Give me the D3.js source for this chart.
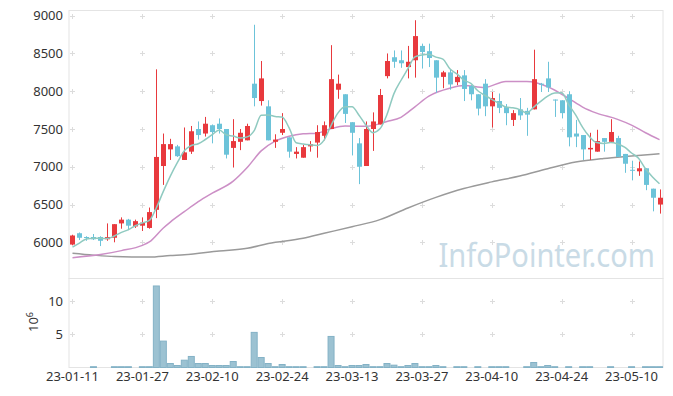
<!DOCTYPE html>
<html>
<head>
<meta charset="utf-8">
<script src="https://cdn.jsdelivr.net/npm/d3@7"></script>
<style>
  body { margin: 0; background: #fff; }
  text { font-family: "Noto Sans", sans-serif; }
</style>
</head>
<body>
<div id="chart"></div>
<script>
// trading days
const dates = [
  "23-01-11","23-01-12","23-01-13","23-01-16","23-01-17","23-01-18","23-01-19","23-01-20","23-01-25","23-01-26",
  "23-01-27","23-01-30","23-01-31","23-02-01","23-02-02","23-02-03","23-02-06","23-02-07","23-02-08","23-02-09",
  "23-02-10","23-02-13","23-02-14","23-02-15","23-02-16","23-02-17","23-02-20","23-02-21","23-02-22","23-02-23",
  "23-02-24","23-02-27","23-02-28","23-03-02","23-03-03","23-03-06","23-03-07","23-03-08","23-03-09","23-03-10",
  "23-03-13","23-03-14","23-03-15","23-03-16","23-03-17","23-03-20","23-03-21","23-03-22","23-03-23","23-03-24",
  "23-03-27","23-03-28","23-03-29","23-03-30","23-03-31","23-04-03","23-04-04","23-04-05","23-04-06","23-04-07",
  "23-04-10","23-04-11","23-04-12","23-04-13","23-04-14","23-04-17","23-04-18","23-04-19","23-04-20","23-04-21",
  "23-04-24","23-04-25","23-04-26","23-04-27","23-04-28","23-05-02","23-05-03","23-05-04","23-05-08","23-05-09",
  "23-05-10","23-05-11","23-05-12","23-05-15","23-05-16"
];

const open = [
  5970,6120,6070,6070,6070,6040,6060,6250,6300,6210,
  6220,6190,6430,7010,7230,7270,7090,7200,7500,7440,
  7550,7570,7500,7250,7330,7350,8100,7870,7800,7330,
  7450,7390,7170,7120,7270,7320,7410,7500,8020,7960,
  7590,7310,7010,7500,7560,8200,8450,8410,8320,8410,
  8600,8530,8410,8190,8250,8120,8210,8070,7960,8100,
  7800,7870,7790,7620,7760,7740,7760,8100,8170,7890,
  7880,7960,7440,7420,7230,7200,7380,7330,7380,7170,
  6960,6940,6980,6710,6500
];
const high = [
  6100,6130,6080,6110,6080,6250,6240,6330,6310,6300,
  6330,6460,8290,7440,7370,7290,7520,7540,7600,7660,
  7560,7640,7500,7630,7500,7570,8880,8400,7880,7430,
  7710,7390,7260,7290,7340,7550,7600,8610,8220,7960,
  7590,7380,7600,7720,8030,8500,8540,8540,8600,8940,
  8630,8630,8410,8270,8290,8280,8280,8080,7960,8160,
  7990,7970,7830,7750,7910,7780,8550,8110,8390,7890,
  7880,8000,7620,7420,7450,7490,7380,7630,7410,7170,
  7080,7070,6980,6710,6700
];
const low = [
  5960,6030,6020,6030,5950,6020,6000,6180,6160,6190,
  6150,6180,6320,6760,7090,7130,7090,7170,7360,7400,
  7310,7440,7110,6990,7220,7350,7800,7810,7350,7250,
  7420,7120,7110,7120,7200,7120,7350,7500,7900,7580,
  7150,6770,7010,7210,7560,8170,8310,8310,8170,8180,
  8300,8320,7980,8040,8020,8080,7870,7880,7680,7670,
  7520,7710,7550,7540,7620,7410,7760,7990,7990,7660,
  7640,7270,7260,7090,7090,7200,7200,7330,7130,6920,
  6820,6880,6690,6410,6380
];
const close = [
  6090,6060,6060,6040,6020,6070,6240,6300,6220,6280,
  6260,6400,7130,7300,7300,7140,7190,7470,7420,7570,
  7460,7500,7160,7340,7450,7540,7910,8170,7350,7360,
  7500,7200,7200,7260,7300,7460,7550,8160,8100,7700,
  7450,7000,7500,7600,7950,8400,8390,8370,8390,8730,
  8520,8440,8180,8250,8090,8190,8030,7960,7770,7800,
  7910,7780,7710,7710,7680,7690,8160,8090,8050,7880,
  7710,7390,7400,7230,7250,7340,7330,7460,7130,7040,
  6950,6980,6760,6590,6590
];
// volume, millions of shares
const volume = [
  0,0,0,0.12,0,0,0.12,0.12,0.12,0,
  0.12,0.12,12.26,3.97,0.6,0.3,1.1,1.66,0.6,0.6,
  0.3,0.3,0.3,0.9,0.12,0.12,5.28,1.5,0.6,0.12,
  0.45,0.12,0.12,0.12,0,0.12,0.12,4.67,0.3,0.12,
  0.3,0.3,0.45,0.12,0.12,0.6,0.35,0.12,0.3,0.6,
  0.12,0.12,0.3,0.12,0,0.12,0.12,0,0.12,0,
  0.12,0.12,0.12,0,0,0.12,0.75,0.12,0.3,0.12,
  0,0.12,0,0.12,0.12,0,0,0.12,0,0,
  0.12,0,0.12,0.12,0.12
];

// moving averages
const ma5 = [
  5935,5990,6045,6055,6053,6049,6084,6131,6167,6219,
  6257,6290,6457,6674,6877,7054,7212,7281,7305,7361,
  7425,7487,7423,7406,7381,7396,7479,7683,7684,7666,
  7658,7515,7319,7302,7290,7282,7353,7546,7713,7794,
  7793,7683,7550,7452,7502,7691,7968,8142,8299,8455,
  8480,8491,8452,8425,8297,8229,8147,8103,8006,7947,
  7892,7843,7792,7780,7757,7714,7790,7866,7935,7975,
  7979,7824,7686,7522,7396,7320,7309,7321,7302,7259,
  7182,7113,6973,6865,6775
];
const ma20Idx = [0,4,7,10,11,13,14,16,18,20,23,25,27,29,31,33,35,37,39,42,45,47,49,51,54,56,59,62,65,68,71,73,75,78,80,82,84];
const ma20 = [5797,5840,5890,5960,6005,6190,6268,6405,6537,6650,6810,6990,7210,7340,7405,7437,7445,7505,7539,7535,7600,7655,7794,7935,8040,8075,8050,8130,8128,8060,7905,7790,7710,7628,7552,7450,7358];
const ma60Idx = [0,3,6,11,14,16,21,25,28,33,36,40,44,48,52,56,60,64,68,72,76,80,84];
const ma60 = [5855,5830,5812,5805,5825,5835,5885,5920,5985,6053,6119,6206,6300,6455,6595,6712,6800,6877,6975,7062,7110,7142,7172];

const priceTicks = [6000,6500,7000,7500,8000,8500,9000];
const volTicks = [5,10];
const dateTicks = ["23-01-11","23-01-27","23-02-10","23-02-24","23-03-13","23-03-27","23-04-10","23-04-24","23-05-10"];

const W = 673, H = 396;
const left = 69, right = 663;
const pTop = 10.5, pBot = 278.5, vBot = 367.5;

const svg = d3.select("#chart").append("svg")
    .attr("width", W)
    .attr("height", H);

const x = d3.scaleBand()
    .domain(dates)
    .range([left, right])
    .padding(0);
const cx = d => x(d) + x.bandwidth() / 2;

const y = d3.scaleLinear()
    .domain([6000, 9000])
    .range([242.3, 15.7]);

const vy = d3.scaleLinear()
    .domain([0, 10])
    .range([vBot, 301]);

// frames
svg.append("rect")
    .attr("x", left).attr("y", pTop)
    .attr("width", right - left).attr("height", pBot - pTop)
    .attr("fill", "none").attr("stroke", "#e4e4e4");
svg.append("rect")
    .attr("x", left).attr("y", pBot)
    .attr("width", right - left).attr("height", vBot - pBot)
    .attr("fill", "none").attr("stroke", "#e4e4e4");

// grid crosses
const grid = svg.append("g").attr("stroke", "#dcdcdc").attr("stroke-width", 1);
const crossRows = priceTicks.map(t => y(t)).concat(volTicks.map(t => vy(t)));
dateTicks.forEach(d => {
    crossRows.forEach(ry => {
        const gx = Math.round(cx(d)) + 0.5, gy = Math.round(ry) + 0.5;
        grid.append("line").attr("x1", gx - 2.5).attr("x2", gx + 2.5).attr("y1", gy).attr("y2", gy);
        grid.append("line").attr("x1", gx).attr("x2", gx).attr("y1", gy - 2.5).attr("y2", gy + 2.5);
    });
});

// watermark (right edge pinned, narrowed)
svg.append("text")
    .attr("transform", "translate(655,267) scale(0.88,1)")
    .attr("text-anchor", "end")
    .style("font-size", "33px")
    .style("fill", "#c9dbe6")
    .text("InfoPointer.com");

// y axis labels
svg.append("g")
    .attr("transform", `translate(${left},0)`)
    .call(d3.axisLeft(y).tickValues(priceTicks).tickFormat(d3.format("d")).tickSize(0).tickPadding(6))
    .call(g => g.select(".domain").remove())
    .call(g => g.selectAll("text").style("font-size", "13px").style("font-family", "Noto Sans").attr("fill", "#333"));

svg.append("g")
    .attr("transform", `translate(${left},0)`)
    .call(d3.axisLeft(vy).tickValues(volTicks).tickFormat(d3.format("d")).tickSize(0).tickPadding(6))
    .call(g => g.select(".domain").remove())
    .call(g => g.selectAll("text").style("font-size", "13px").style("font-family", "Noto Sans").attr("fill", "#333"));

svg.append("g")
    .attr("transform", `translate(0,${vBot})`)
    .call(d3.axisBottom(x).tickValues(dateTicks).tickSize(0).tickPadding(4))
    .call(g => g.select(".domain").remove())
    .call(g => g.selectAll("text").style("font-size", "13px").style("font-family", "Noto Sans").attr("fill", "#333"));

// 10^6 label
const unit = svg.append("text")
    .attr("transform", "translate(38,322) rotate(-90)")
    .attr("text-anchor", "middle")
    .style("font-size", "13px")
    .attr("fill", "#333");
unit.append("tspan").text("10");
unit.append("tspan").attr("dy", -5).style("font-size", "9px").text("6");

// volume bars
svg.append("g")
    .selectAll("rect")
    .data(dates.filter((d, i) => volume[i] > 0))
    .join("rect")
    .attr("x", d => x(d) + 0.5)
    .attr("y", d => vy(volume[dates.indexOf(d)]))
    .attr("width", x.bandwidth() - 1)
    .attr("height", d => vBot - vy(volume[dates.indexOf(d)]))
    .attr("fill", "#9cc2d2")
    .attr("stroke", "#84b2c6")
    .attr("stroke-width", 1);

// moving average lines
const line = d3.line().curve(d3.curveMonotoneX);
svg.append("path")
    .attr("d", line(ma60Idx.map((k, j) => [cx(dates[k]), y(ma60[j])])))
    .attr("fill", "none").attr("stroke", "#9a9a9a").attr("stroke-width", 1.5);
svg.append("path")
    .attr("d", line(ma20Idx.map((k, j) => [cx(dates[k]), y(ma20[j])])))
    .attr("fill", "none").attr("stroke", "#cc8fc6").attr("stroke-width", 1.5);

// candles
const up = "#e8393d", down = "#6cc3d9";
const candles = svg.append("g")
    .selectAll("g")
    .data(dates)
    .join("g");
candles.append("line")
    .attr("x1", d => Math.round(cx(d)) + 0.5)
    .attr("x2", d => Math.round(cx(d)) + 0.5)
    .attr("y1", (d, i) => y(high[i]))
    .attr("y2", (d, i) => y(low[i]))
    .attr("stroke", (d, i) => close[i] >= open[i] ? up : down)
    .attr("stroke-width", 1);
candles.append("rect")
    .attr("x", d => Math.round(cx(d)) - 2)
    .attr("width", 5)
    .attr("y", (d, i) => y(Math.max(open[i], close[i])))
    .attr("height", (d, i) => Math.max(1, Math.abs(y(open[i]) - y(close[i]))))
    .attr("fill", (d, i) => close[i] >= open[i] ? up : down);

svg.append("path")
    .attr("d", line(dates.map((d, i) => [cx(d), y(ma5[i])])))
    .attr("fill", "none").attr("stroke", "#8fcac0").attr("stroke-width", 1.5);
</script>
</body>
</html>
